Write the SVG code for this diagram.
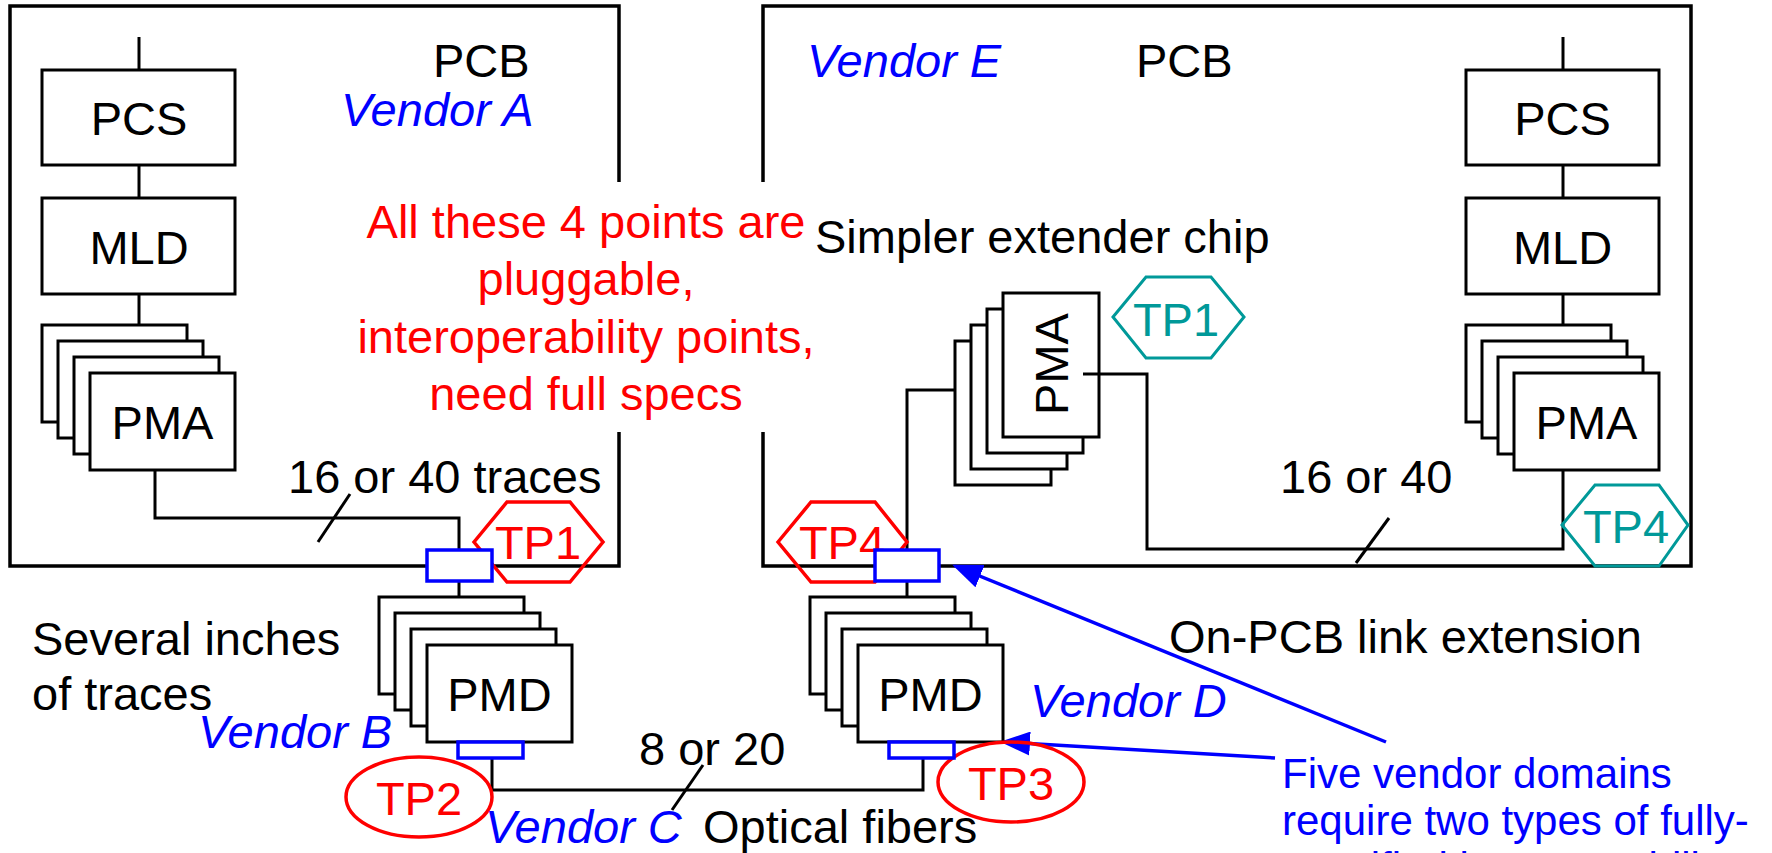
<svg xmlns="http://www.w3.org/2000/svg" width="1772" height="853" viewBox="0 0 1772 853">
<defs>
<style>
.box{fill:#fff;stroke:#000;stroke-width:3}
.pcb{fill:none;stroke:#000;stroke-width:3.5}
.wire{fill:none;stroke:#000;stroke-width:3}
.conn{fill:#fff;stroke:#0000ff;stroke-width:3.5}
.redh{fill:none;stroke:#ff0000;stroke-width:3.5}
.tealh{fill:none;stroke:#009999;stroke-width:3}
.arrow{fill:none;stroke:#0000ff;stroke-width:3.5}
text{font-family:"Liberation Sans",Arial,sans-serif;font-size:47px;fill:#000}
.c{text-anchor:middle}
.v{font-style:italic;fill:#0000ff}
.r{fill:#ff0000}
.tl{fill:#009999}
.note{fill:#0000ff;font-size:42px}
</style>
<marker id="ah" markerUnits="userSpaceOnUse" markerWidth="30" markerHeight="24" viewBox="0 0 30 24" refX="27" refY="12" orient="auto">
<path d="M0,0 L30,12 L0,24 z" fill="#0000ff"/>
</marker>
</defs>
<rect width="1772" height="853" fill="#fff"/>

<g id="pcb-left">
<path class="pcb" d="M619,182 V6 H10 V566 H619 V432"/>
<text x="433" y="77">PCB</text>
<text class="v" x="341" y="126">Vendor A</text>
</g>
<g id="pcb-right">
<path class="pcb" d="M763,182 V6 H1691 V566 H763 V432"/>
<text class="v" x="807" y="77">Vendor E</text>
<text x="1136" y="77">PCB</text>
</g>

<g id="connectors">
<line class="wire" x1="139" y1="37" x2="139" y2="70"/>
<line class="wire" x1="139" y1="165" x2="139" y2="198"/>
<line class="wire" x1="139" y1="294" x2="139" y2="325"/>
<polyline class="wire" points="155,470 155,518 459,518 459,550"/>
<line class="wire" x1="318" y1="542" x2="350" y2="494"/>
<line class="wire" x1="459" y1="581" x2="459" y2="597"/>
<polyline class="wire" points="492,758 492,790 923,790 923,758"/>
<line class="wire" x1="672" y1="810" x2="703" y2="765"/>
<line class="wire" x1="1563" y1="37" x2="1563" y2="70"/>
<line class="wire" x1="1563" y1="165" x2="1563" y2="198"/>
<line class="wire" x1="1563" y1="294" x2="1563" y2="325"/>
<polyline class="wire" points="1563,470 1563,549 1147,549 1147,374 1083,374"/>
<line class="wire" x1="1356" y1="563" x2="1389" y2="518"/>
<polyline class="wire" points="955,390 907,390 907,550"/>
<line class="wire" x1="907" y1="581" x2="907" y2="597"/>
<line class="arrow" x1="1386" y1="742" x2="955" y2="566" marker-end="url(#ah)"/>
<line class="arrow" x1="1275" y1="758" x2="1003" y2="742" marker-end="url(#ah)"/>
</g>

<g id="pcs-left">
<rect class="box" x="42" y="70" width="193" height="95"/>
<text class="c" x="139" y="135">PCS</text>
</g>
<g id="mld-left">
<rect class="box" x="42" y="198" width="193" height="96"/>
<text class="c" x="139" y="264">MLD</text>
</g>
<g id="pma-left">
<rect class="box" x="42" y="325" width="145" height="97"/>
<rect class="box" x="58" y="341" width="145" height="97"/>
<rect class="box" x="74" y="357" width="145" height="97"/>
<rect class="box" x="90" y="373" width="145" height="97"/>
<text class="c" x="162.5" y="439">PMA</text>
</g>

<g id="pcs-right">
<rect class="box" x="1466" y="70" width="193" height="95"/>
<text class="c" x="1562.5" y="135">PCS</text>
</g>
<g id="mld-right">
<rect class="box" x="1466" y="198" width="193" height="96"/>
<text class="c" x="1562.5" y="264">MLD</text>
</g>
<g id="pma-right">
<rect class="box" x="1466" y="325" width="145" height="97"/>
<rect class="box" x="1482" y="341" width="145" height="97"/>
<rect class="box" x="1498" y="357" width="145" height="97"/>
<rect class="box" x="1514" y="373" width="145" height="97"/>
<text class="c" x="1586.5" y="439">PMA</text>
</g>

<g id="pma-extender">
<rect class="box" x="955" y="341" width="96" height="144"/>
<rect class="box" x="971" y="325" width="96" height="144"/>
<rect class="box" x="987" y="309" width="96" height="144"/>
<rect class="box" x="1003" y="293" width="96" height="144"/>
<text class="c" transform="translate(1068,364) rotate(-90)">PMA</text>
<line class="wire" x1="1083" y1="374" x2="1099" y2="374"/>
</g>
<g id="extender-label">
<text x="815" y="253">Simpler extender chip</text>
</g>

<g id="pmd-left">
<rect class="box" x="379" y="597" width="145" height="97"/>
<rect class="box" x="395" y="613" width="145" height="97"/>
<rect class="box" x="411" y="629" width="145" height="97"/>
<rect class="box" x="427" y="645" width="145" height="97"/>
<text class="c" x="499.5" y="711">PMD</text>
</g>
<g id="pmd-right">
<rect class="box" x="810" y="597" width="145" height="97"/>
<rect class="box" x="826" y="613" width="145" height="97"/>
<rect class="box" x="842" y="629" width="145" height="97"/>
<rect class="box" x="858" y="645" width="145" height="97"/>
<text class="c" x="930.5" y="711">PMD</text>
</g>

<g id="tp1-red">
<polygon class="redh" points="474,542 507,502 570,502 603,542 570,582 507,582"/>
<text class="c r" x="538" y="559">TP1</text>
</g>
<g id="tp4-red">
<polygon class="redh" points="778,542 811,502 875,502 907,542 875,582 811,582"/>
<text class="c r" x="842" y="559">TP4</text>
</g>
<g id="tp1-teal">
<polygon class="tealh" points="1113,317 1146,277 1211,277 1244,317 1211,358 1146,358"/>
<text class="c tl" x="1176" y="336">TP1</text>
</g>
<g id="tp4-teal">
<polygon class="tealh" points="1562,525 1595,485 1659,485 1688,525 1659,566 1595,566"/>
<text class="c tl" x="1626" y="543">TP4</text>
</g>
<g id="tp2">
<ellipse class="redh" cx="419" cy="797" rx="73" ry="40"/>
<text class="c r" x="419" y="815">TP2</text>
</g>
<g id="tp3">
<ellipse class="redh" cx="1011" cy="782" rx="73" ry="40"/>
<text class="c r" x="1011" y="800">TP3</text>
</g>

<g id="plug-left">
<rect class="conn" x="427" y="550" width="65" height="31"/>
</g>
<g id="plug-right">
<rect class="conn" x="875" y="550" width="64" height="31"/>
</g>
<g id="opt-left">
<rect class="conn" x="458" y="742" width="65" height="16"/>
</g>
<g id="opt-right">
<rect class="conn" x="889" y="742" width="65" height="16"/>
</g>

<g id="labels">
<text class="c r" x="586" y="238">All these 4 points are</text>
<text class="c r" x="586" y="295">pluggable,</text>
<text class="c r" x="586" y="353">interoperability points,</text>
<text class="c r" x="586" y="410">need full specs</text>
<text x="288" y="493">16 or 40 traces</text>
<text x="1280" y="493">16 or 40</text>
<text x="32" y="655">Several inches</text>
<text x="32" y="710">of traces</text>
<text class="v" x="198" y="748">Vendor B</text>
<text x="639" y="765">8 or 20</text>
<text class="v" x="485" y="843">Vendor C</text>
<text x="703" y="843">Optical fibers</text>
<text class="v" x="1030" y="717">Vendor D</text>
<text x="1169" y="653">On-PCB link extension</text>
<text class="note" x="1282" y="788">Five vendor domains</text>
<text class="note" x="1282" y="835">require two types of fully-</text>
<text class="note" x="1282" y="882">specified interoperability</text>
</g>
</svg>
